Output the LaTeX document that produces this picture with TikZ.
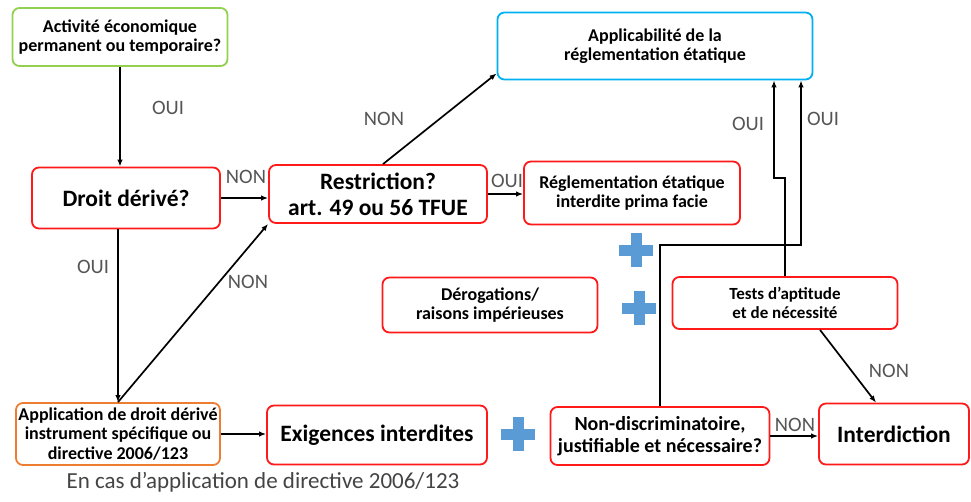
\documentclass[tikz,border=0pt]{standalone}
\usepackage{fontspec}
\setmainfont{Carlito}
\usetikzlibrary{arrows.meta}

\definecolor{boxred}{RGB}{255,25,25}
\definecolor{boxgreen}{RGB}{146,208,80}
\definecolor{boxblue}{RGB}{0,176,240}
\definecolor{boxorange}{RGB}{237,125,49}
\definecolor{crossblue}{RGB}{91,155,213}
\definecolor{lblgray}{RGB}{85,85,85}

\tikzset{
  box/.style={draw=boxred, line width=1.8pt, rounded corners=7pt, align=center,
    inner sep=1pt, font=\bfseries\fontsize{18}{19.5}\selectfont},
  bigbox/.style={box, font=\bfseries\fontsize{23.5}{26}\selectfont},
  arr/.style={-{Latex[length=7pt,width=5.5pt]}, line width=1.7pt},
  lbl/.style={text=lblgray, font=\fontsize{20.5}{22}\selectfont},
  cross/.pic={
    \fill[crossblue] (-17,-5.5) rectangle (17,5.5);
    \fill[crossblue] (-5.5,-17) rectangle (5.5,17);
  }
}

\begin{document}
\begin{tikzpicture}[x=1pt, y=-1pt]
  \useasboundingbox (0,0) rectangle (971,501);

  % boxes
  \node[box, draw=boxgreen, minimum width=215pt, minimum height=58pt] (activ) at (120,37)
    {Activité économique\\permanent ou temporaire?};
  \node[bigbox, minimum width=188pt, minimum height=61pt] (droit) at (126,198) {Droit dérivé?};
  \node[bigbox, minimum width=218pt, minimum height=58pt] (restr) at (378,194)
    {Restriction?\\art. 49 ou 56 TFUE};
  \node[box, draw=boxblue, minimum width=315pt, minimum height=67pt] (appl) at (655,46)
    {Applicabilité de la\\réglementation étatique};
  \node[box, minimum width=216pt, minimum height=63pt] (regl) at (632,193)
    {Réglementation étatique\\interdite prima facie};
  \node[box, minimum width=215pt, minimum height=55pt] (derog) at (490,305)
    {Dérogations/\\raisons impérieuses};
  \node[box, font=\bfseries\fontsize{17}{19}\selectfont, minimum width=225pt, minimum height=52pt]
    (tests) at (785,303) {Tests d’aptitude\\et de nécessité};
  \node[box, draw=boxorange, minimum width=204pt, minimum height=62pt] (appdd) at (118,434)
    {Application de droit dérivé\\instrument spécifique ou\\directive 2006/123};
  \node[bigbox, minimum width=220pt, minimum height=59pt] (exig) at (377,435) {Exigences interdites};
  \node[box, font=\bfseries\fontsize{20}{21.5}\selectfont, minimum width=219pt, minimum height=58pt]
    (nondisc) at (660,436) {Non-discriminatoire,\\justifiable et nécessaire?};
  \node[bigbox, minimum width=150pt, minimum height=61pt] (interd) at (894,434) {Interdiction};

  % plus signs
  \pic at (636,250) {cross};
  \pic at (639,308) {cross};
  \pic at (518,434) {cross};

  % connectors
  \draw[arr] (activ.south) -- (activ.south |- droit.north);
  \draw[arr] (droit.east) -- (droit.east -| restr.west);
  \draw[arr] (droit.south -| appdd.north) -- (appdd.north);
  \draw[arr] (appdd.north) -- (restr.south west);
  \draw[arr] ([xshift=5pt]restr.north) -- ([yshift=7pt]appl.south west);
  \draw[arr] (restr.east) -- (restr.east -| regl.west);
  \draw[arr] (appdd.east) -- (appdd.east -| exig.west);
  \draw[arr] (nondisc.east) -- (nondisc.east -| interd.west);
  \draw[arr] ([xshift=35pt]tests.south) -- ([xshift=-18pt]interd.north);
  \coordinate (bendA) at (774,178);
  \coordinate (bendB) at (801,245);
  \draw[arr] (tests.north) |- (bendA) -- (bendA |- appl.south);
  \draw[arr] (nondisc.north) |- (bendB) -- (bendB |- appl.south);

  % labels
  \node[lbl] (l1) at (168,108) {OUI};
  \node[lbl] (l2) at (246,177) {NON};
  \node[lbl] (l3) at (384,119) {NON};
  \node[lbl] (l4) at (93,267) {OUI};
  \node[lbl] (l5) at (248,282) {NON};
  \node[lbl] (l6) at (507,181) {OUI};
  \node[lbl] (l7) at (748,124) {OUI};
  \node[lbl] (l8) at (823,119) {OUI};
  \node[lbl] (l9) at (889,371) {NON};
  \node[lbl] (l10) at (795,425) {NON};

  \node[text=lblgray!80!black, font=\fontsize{23}{25}\selectfont] (caption) at (263,482)
    {En cas d’application de directive 2006/123};
\end{tikzpicture}
\end{document}
